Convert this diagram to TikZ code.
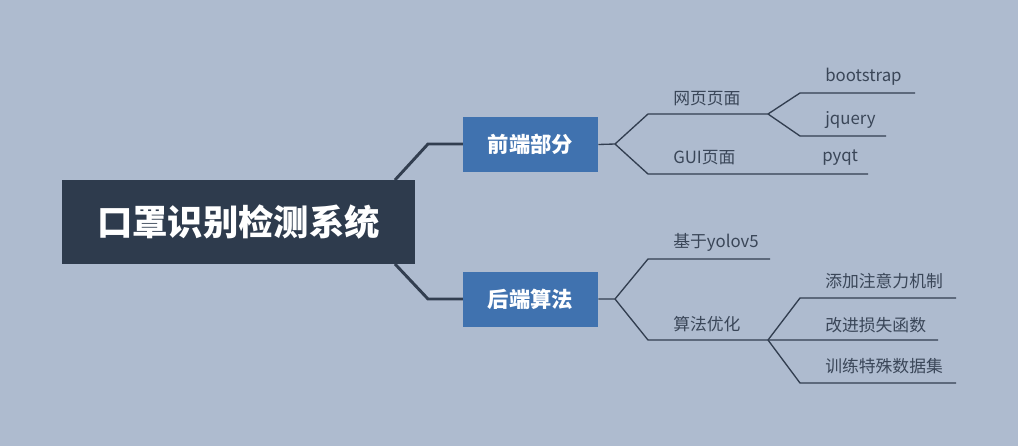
\documentclass[tikz,border=0pt]{standalone}
\usepackage{fontspec}
\setmainfont{Noto Sans CJK SC}
\definecolor{bg}{HTML}{AEBBCF}
\definecolor{rootc}{HTML}{2E3B4D}
\definecolor{boxc}{HTML}{4072AF}
\definecolor{linec}{HTML}{323E50}
\definecolor{txtc}{HTML}{3A4658}
\tikzset{
  rootbox/.style={fill=rootc, text=white, inner sep=0pt, minimum width=264.75pt, minimum height=63pt, font=\fontsize{26.5pt}{30pt}\selectfont\bfseries},
  subbox/.style={fill=boxc, text=white, inner sep=0pt, minimum width=101.25pt, minimum height=41.25pt, font=\fontsize{16pt}{18pt}\selectfont\bfseries},
  leaf/.style={anchor=west, text=txtc, inner sep=0pt, font=\fontsize{12.6pt}{14pt}\selectfont},
  mainline/.style={draw=linec, line width=2.2pt},
  thinline/.style={draw=linec, line width=1pt}
}
\begin{document}
\begin{tikzpicture}[x=0.75pt,y=-0.75pt]
\fill[bg] (0,0) rectangle (1018,446);
\useasboundingbox (0,0) rectangle (1018,446);
% coordinates
\coordinate (r1) at (395,180);
\coordinate (k1) at (428,144);
\coordinate (r2) at (395,264);
\coordinate (k2) at (428,299);
% main connectors
\draw[mainline] (r1) -- (k1) -- (463,144);
\draw[mainline] (r2) -- (k2) -- (463,299);
% nodes
\node[rootbox] (root) at (238.5,222) {口罩识别检测系统};
\node[subbox] (fe) at (530.5,144.5) {前端部分};
\node[subbox] (be) at (530.5,299) {后端算法};
% front-end branches
\coordinate (f0) at (615,144);
\coordinate (fa) at (648,114);
\coordinate (fb) at (768,114);
\coordinate (fc) at (648,174);
\coordinate (fd) at (868,174);
\coordinate (fe1) at (800,93);
\coordinate (fe2) at (915,93);
\coordinate (ff1) at (800,136);
\coordinate (ff2) at (886,136);
\draw[thinline] (fe.east) -- (f0) -- (fa) -- (fb);
\draw[thinline] (f0) -- (fc) -- (fd);
\draw[thinline] (fb) -- (fe1) -- (fe2);
\draw[thinline] (fb) -- (ff1) -- (ff2);
\node[leaf] (web) at (673,99) {网页页面};
\node[leaf] (gui) at (673,158) {GUI页面};
\node[leaf] (bs) at (825,77) {bootstrap};
\node[leaf] (jq) at (825,120) {jquery};
\node[leaf] (pq) at (822,158) {pyqt};
% back-end branches
\coordinate (b0) at (615,299);
\coordinate (ba) at (648,259);
\coordinate (bb) at (770,259);
\coordinate (bc) at (648,340);
\coordinate (bd) at (768,340);
\coordinate (bm) at (938,340);
\coordinate (bu1) at (800,298);
\coordinate (bu2) at (956,298);
\coordinate (bl1) at (800,383);
\coordinate (bl2) at (956,383);
\draw[thinline] (be.east) -- (b0) -- (ba) -- (bb);
\draw[thinline] (b0) -- (bc) -- (bd) -- (bm);
\draw[thinline] (bd) -- (bu1) -- (bu2);
\draw[thinline] (bd) -- (bl1) -- (bl2);
\node[leaf] (yolo) at (673,242) {基于yolov5};
\node[leaf] (opt) at (673,324) {算法优化};
\node[leaf] (att) at (825,281) {添加注意力机制};
\node[leaf] (loss) at (825,325) {改进损失函数};
\node[leaf] (data) at (825,366) {训练特殊数据集};
\end{tikzpicture}
\end{document}
